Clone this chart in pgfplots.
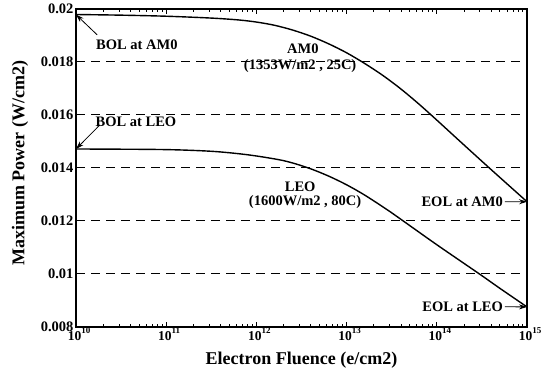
\documentclass[border=0pt]{standalone}
\usepackage{fontspec}
\setmainfont{Liberation Serif}
\usepackage{pgfplots}
\pgfplotsset{compat=1.18}
\usetikzlibrary{arrows.meta}
\begin{document}
\begin{tikzpicture}
\begin{axis}[
  at={(0,0)}, anchor=south west,
  scale only axis, width=451pt, height=318pt,
  xmode=log, xmin=1e10, xmax=1e15,
  ymin=0.008, ymax=0.02,
  axis line style={line width=1.6pt},
  xtick={1e10,1e11,1e12,1e13,1e14,1e15},
  xticklabels={
    {10\raisebox{1.2ex}{\fontsize{9}{10}\selectfont 10}},
    {10\raisebox{1.2ex}{\fontsize{9}{10}\selectfont 11}},
    {10\raisebox{1.2ex}{\fontsize{9}{10}\selectfont 12}},
    {10\raisebox{1.2ex}{\fontsize{9}{10}\selectfont 13}},
    {10\raisebox{1.2ex}{\fontsize{9}{10}\selectfont 14}},
    {10\raisebox{1.2ex}{\fontsize{9}{10}\selectfont 15}}},
  ytick={0.008,0.01,0.012,0.014,0.016,0.018,0.02},
  yticklabels={0.008,0.01,0.012,0.014,0.016,0.018,0.02},
  xticklabel style={font=\fontsize{13.5}{15}\selectfont\bfseries, yshift=3pt, xshift=3pt},
  yticklabel style={font=\fontsize{14.5}{16}\selectfont\bfseries, xshift=1pt},
  /pgf/number format/assume math mode=true,
  tick align=inside,
  xtick pos=both,
  ytick style={draw=none},
  major tick length=5pt, minor tick length=3pt,
  every tick/.style={black, line width=0.8pt},
  ymajorgrids=true,
  major grid style={black, line width=0.9pt, dash pattern=on 9pt off 6pt},
  every axis x label/.style={at={(rel axis cs:0.5,0)}, yshift=-33pt, anchor=center},
  every axis y label/.style={at={(rel axis cs:0,0.515)}, xshift=-56pt, rotate=90, anchor=center},
  label style={font=\fontsize{18}{20}\selectfont\bfseries},
  xlabel={Electron Fluence (e/cm2)},
  ylabel={Maximum Power (W/cm2)},
  clip=false,
]
% AM0 (1353 W/m2, 25C)
\addplot[smooth, tension=0.5, black, line width=1.4pt] coordinates {
  (1e10,0.019785) (3.16e10,0.01976) (1e11,0.01972) (3.16e11,0.01965)
  (6.31e11,0.01958) (1e12,0.01950) (1.58e12,0.01938) (2.51e12,0.01920) (3.98e12,0.01897)
  (6.31e12,0.01868) (1e13,0.01834) (1.58e13,0.01794) (2.51e13,0.01749)
  (3.98e13,0.01698) (6.31e13,0.01641) (1e14,0.01580) (1.82e14,0.01499)
  (3.89e14,0.01397) (1e15,0.01272)
};
% LEO (1600 W/m2, 80C)
\addplot[smooth, tension=0.5, black, line width=1.4pt] coordinates {
  (1e10,0.01471) (6.6e10,0.014695) (1.55e11,0.01467) (3.63e11,0.01461)
  (8.5e11,0.01448) (2e12,0.01427) (3.72e12,0.01400) (6.31e12,0.013688)
  (1e13,0.013358) (1.58e13,0.012974) (2.82e13,0.012417) (4.22e13,0.01200)
  (1e14,0.011097) (2.95e14,0.01000) (5.01e14,0.00945) (1e15,0.00875)
};
\begin{scope}[font=\fontsize{14.5}{16}\selectfont\bfseries]
\node at (rel axis cs:0.135,0.887) {BOL at AM0};
\draw[line width=0.8pt, -{Stealth[length=8pt,width=5pt]}] (rel axis cs:0.047,0.918) -- (axis cs:1e10,0.01978);
\node at (rel axis cs:0.133,0.645) {BOL at LEO};
\draw[line width=0.8pt, -{Stealth[length=8pt,width=5pt]}] (rel axis cs:0.053,0.635) -- (axis cs:1e10,0.01471);
\node at (rel axis cs:0.503,0.874) {AM0};
\node at (rel axis cs:0.497,0.821) {(1353W/m2 , 25C)};
\node at (rel axis cs:0.497,0.440) {LEO};
\node at (rel axis cs:0.508,0.393) {(1600W/m2 , 80C)};
\node[anchor=east, inner sep=0pt] at (rel axis cs:0.947,0.393) {EOL at AM0};
\draw[line width=0.8pt, -{Stealth[length=8pt,width=5pt]}] (rel axis cs:0.951,0.393) -- (axis cs:1e15,0.01272);
\node[anchor=east, inner sep=0pt] at (rel axis cs:0.947,0.063) {EOL at LEO};
\draw[line width=0.8pt, -{Stealth[length=8pt,width=5pt]}] (rel axis cs:0.951,0.063) -- (axis cs:1e15,0.00875);
\end{scope}
\end{axis}
\pgfresetboundingbox
\path[use as bounding box] (-76pt,-49pt) rectangle (469pt,326.8pt);
\end{tikzpicture}
\end{document}
